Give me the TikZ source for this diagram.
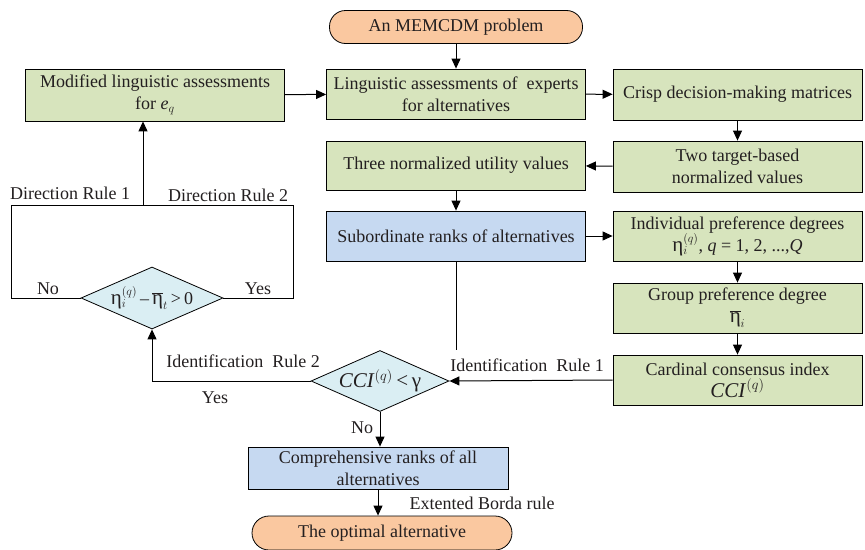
\documentclass[tikz,border=0pt]{standalone}
\usepackage{fontspec}
\setmainfont{Liberation Serif}
\usetikzlibrary{shapes.geometric,arrows.meta}
\definecolor{gfill}{HTML}{D7E4BD}
\definecolor{bfill}{HTML}{C6D9F1}
\definecolor{ofill}{HTML}{FAC8A0}
\definecolor{dfill}{HTML}{DAEEF3}
\definecolor{txt}{HTML}{231F20}
\newcommand{\bigeta}{\mbox{\fontsize{21}{22}\selectfont η}}
\begin{document}
\begin{tikzpicture}[x=1pt,y=-1pt,
  font=\fontsize{18}{22}\selectfont, text=txt,
  every node/.style={align=center, inner sep=0pt},
  gbox/.style={draw, line width=0.8pt, fill=gfill, minimum width=259, minimum height=50},
  rbox/.style={draw, line width=0.8pt, fill=gfill, minimum width=249, minimum height=50},
  bbox/.style={draw, line width=0.8pt, fill=bfill, minimum width=259, minimum height=50},
  pill/.style={draw, line width=0.8pt, fill=ofill, rounded corners=16pt, minimum width=253, minimum height=33},
  dia/.style={draw, line width=0.8pt, fill=dfill, diamond, aspect=2.2},
  lab/.style={font=\fontsize{18}{22}\selectfont},
  arr/.style={-{Triangle[length=10pt,width=9pt]}, line width=1pt},
  ln/.style={line width=1pt}]
\useasboundingbox (0,0) rectangle (865,549);

\node[pill] (mem) at (456,27) {An MEMCDM problem};
\node[gbox] (ling) at (456,94) {Linguistic assessments of~ experts\\for alternatives};
\node[gbox, minimum height=52] (mod) at (155,95) {Modified linguistic assessments\\for \textit{e}$_{q}$};
\node[rbox, minimum height=51] (crisp) at (737.5,94.5) {Crisp decision-making matrices};
\node[rbox, minimum height=51] (two) at (737.5,166.5) {Two target-based\\normalized values};
\node[gbox, minimum height=49] (three) at (456,165.5) {Three normalized utility values};
\node[bbox] (sub) at (456,236) {Subordinate ranks of alternatives};
\node[rbox] (ind) at (737.5,236) {Individual preference degrees\\${\bigeta}^{(q)}_{i}$, \textit{q} = 1, 2, ...,\textit{Q}};
\node[rbox] (grp) at (737.5,308) {Group preference degree\\$\overline{\bigeta}_{i}$};
\node[rbox] (card) at (737.5,380) {Cardinal consensus index\\{\fontsize{21}{22}\selectfont\textit{CCI}$^{(q)}$}};
\node[dia, minimum width=138, minimum height=61,
  label={center:{\fontsize{21}{22}\selectfont\textit{CCI}$^{(q)}$\mbox{\,<\,γ}}}] (cci) at (380,381) {};
\node[dia, minimum width=142, minimum height=62,
  label={center:{${\bigeta}^{(q)}_{i}$\,–\,$\overline{\bigeta}_{t}$\,>\,0}}] (eta) at (152,298) {};
\node[bbox, minimum width=260, minimum height=42] (comp) at (378,468) {Comprehensive ranks of all\\alternatives};
\node[pill, minimum width=260, minimum height=34, rounded corners=17pt] (opt) at (382,533) {The optimal alternative};

\coordinate (loopL) at (11,298);
\coordinate (loopTL) at (11,205);
\coordinate (loopTR) at (293,205);
\coordinate (loopR) at (293,298);
\coordinate (loopUp) at (143,205);
\coordinate (subEnd) at (456,350);

\draw[arr] (mem) -- (ling);
\draw[arr] (ling) -- (crisp);
\draw[arr] (mod) -- (ling);
\draw[arr] (crisp) -- (two);
\draw[arr] (two) -- (three);
\draw[arr] (three) -- (sub);
\draw[arr] (sub) -- (ind);
\draw[arr] (ind) -- (grp);
\draw[arr] (grp) -- (card);
\draw[arr] (card.west) -- (cci.east);
\draw[ln] (sub.south) -- (subEnd);
\draw[arr] (cci.west) -| (eta.south);
\draw[arr] (cci.south) -- (cci.south |- comp.north);
\draw[arr] (comp.south) -- (comp.south |- opt.north);
\draw[ln] (eta.west) -- (loopL) -- (loopTL) -- (loopTR) -- (loopR) -- (eta.east);
\draw[arr] (loopUp) -- (loopUp |- mod.south);

\node[lab] (dr1) at (70,193) {Direction Rule 1};
\node[lab] (dr2) at (228,195) {Direction Rule 2};
\node[lab] (no1) at (48,289) {No};
\node[lab] (yes1) at (258,289) {Yes};
\node[lab] (ir2) at (243,361) {Identification~ Rule 2};
\node[lab] (yes2) at (215,398) {Yes};
\node[lab] (ir1) at (527,365) {Identification~ Rule 1};
\node[lab] (no2) at (362,428) {No};
\node[lab] (ebr) at (482,503) {Extented Borda rule};
\end{tikzpicture}
\end{document}
